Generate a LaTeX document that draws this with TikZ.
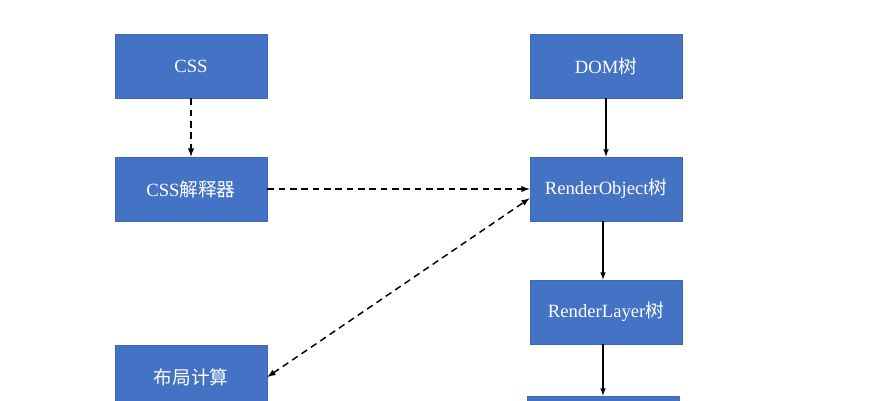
\documentclass[tikz,border=0pt]{standalone}
\usepackage{fontspec}
\setmainfont{Liberation Serif}
\newfontfamily\cjk{Noto Sans CJK SC}
\usetikzlibrary{arrows}
\definecolor{boxblue}{HTML}{4472C4}
\definecolor{boxedge}{HTML}{3E68B4}

\begin{document}
\begin{tikzpicture}[>=latex,x=0.75pt,y=-0.75pt,
	box/.style={draw=boxedge,line width=0.6pt,fill=boxblue,text=white,
		minimum width=114pt,minimum height=48pt,inner sep=0pt,
		font=\fontsize{14}{16}\selectfont},
	dashline/.style={dashed,dash pattern=on 5pt off 3.5pt,line width=1.1pt}]

\useasboundingbox (0,0) rectangle (889,400);
\clip (0,0) rectangle (889,400);

\node[box] (css) at (191,66) {CSS};
\node[box] (parser) at (191,189) {CSS{\cjk 解释器}};
\node[box] (layout) at (191,377) {{\cjk 布局计算}};
\node[box] (dom) at (606,66) {DOM{\cjk 树}};
\node[box] (robj) at (606,189) {RenderObject{\cjk 树}};
\node[box] (rlayer) at (606,312) {RenderLayer{\cjk 树}};
\node[box] (last) at (603,428) {};

\draw[->,dashline] (css)--(parser);
\draw[->,dashline] (parser)--(robj);
\draw[<->,dashline] (layout.east)--([yshift=-7pt]robj.west);

\draw[->,line width=0.9pt] (dom)--(robj);
\draw[->,line width=0.9pt] (robj.south -| last.north)--(rlayer.north -| last.north);
\draw[->,line width=0.9pt] (rlayer.south -| last.north)--(last);

\end{tikzpicture}
\end{document}
